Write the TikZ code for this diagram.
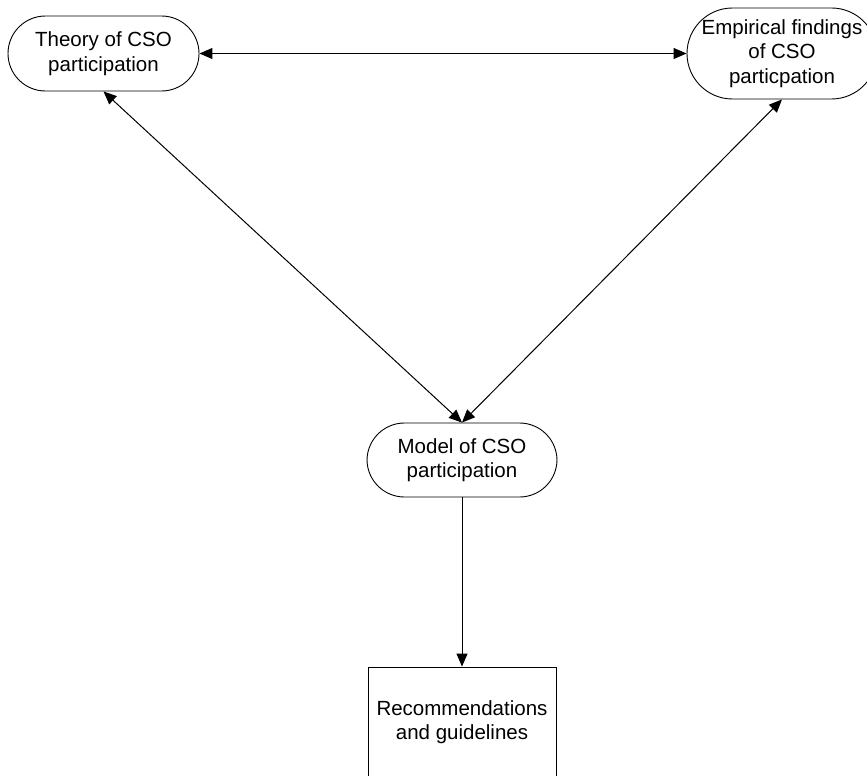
\documentclass[tikz,border=0pt]{standalone}
\usepackage{fontspec}
\setmainfont{Liberation Sans}
\usetikzlibrary{arrows.meta}
\begin{document}
\begin{tikzpicture}[x=1pt,y=-1pt,
  every node/.style={font=\fontsize{20.5}{24.6}\selectfont, align=center, inner sep=0pt},
  stadium/.style={draw, line width=0.9pt, rounded corners=37.5pt, minimum width=191pt, minimum height=75pt},
  box/.style={draw, line width=0.9pt, minimum width=188pt, minimum height=110pt},
  tip/.tip={Triangle[length=13pt,width=11pt]},
  link/.style={line width=1pt, -tip},
  twoway/.style={line width=1pt, tip-tip}
]
\useasboundingbox (0,0) rectangle (867,776);
\clip (0,0) rectangle (867,776);

% the four stages
\node[stadium] (theory) at (103.5,53.5) {Theory of CSO\\participation};
\node[stadium, minimum width=190pt, minimum height=91pt, rounded corners=45.5pt] (emp) at (782,53.5)
  {Empirical findings\\of CSO\\particpation};
\node[stadium, minimum width=190pt, minimum height=74pt] (model) at (462,460) {Model of CSO\\participation};
\node[box] (rec) at (462,722) {Recommendations\\and guidelines};

% connections
\draw[twoway] (theory.east) -- (emp.west);
\draw[twoway] (theory.south) -- (model.north);
\draw[twoway] (emp.south) -- (model.north);
\draw[link] (model.south) -- (rec.north);
\end{tikzpicture}
\end{document}
